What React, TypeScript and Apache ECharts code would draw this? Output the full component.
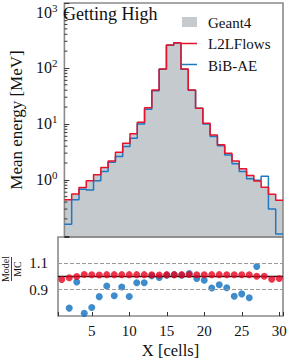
import React, { useEffect, useRef } from "react";
import * as echarts from "echarts";

const X_CELLS = [1, 2, 3, 4, 5, 6, 7, 8, 9, 10, 11, 12, 13, 14, 15, 16, 17, 18, 19, 20, 21, 22, 23, 24, 25, 26, 27, 28, 29, 30];
const GEANT4 = [0.445, 0.558, 0.73, 0.953, 1.22, 1.65, 2.17, 3.1, 4.5, 6.6, 10.65, 19.4, 40.3, 95.5, 255, 281, 95.5, 40.3, 18.9, 10.25, 6.33, 4.2, 2.97, 2.17, 1.56, 1.19, 0.945, 0.735, 0.55, 0.43];
const L2LFLOWS = [0.44, 0.555, 0.73, 0.96, 1.23, 1.66, 2.18, 3.12, 4.52, 6.63, 10.7, 19.5, 40.5, 96, 257, 283, 96, 40.5, 19.0, 10.3, 6.36, 4.22, 2.99, 2.18, 1.57, 1.2, 0.95, 0.74, 0.55, 0.43];
const BIBAE = [0.161, 0.44, 0.68, 0.66, 0.96, 1.41, 2.07, 2.61, 3.94, 5.55, 10.0, 18.3, 39, 95, 255, 280, 95, 40, 19.0, 10.0, 5.94, 4.05, 2.79, 1.93, 1.41, 1.05, 0.98, 1.16, 0.3, 0.107];
const RATIO_L2LFLOWS = [0.977, 0.99, 1.0, 1.015, 1.013, 1.012, 1.014, 1.014, 1.014, 1.014, 1.014, 1.014, 1.013, 1.012, 1.014, 1.014, 1.014, 1.015, 1.013, 1.013, 1.014, 1.014, 1.013, 1.013, 1.013, 1.013, 1.002, 1.002, 0.979, 0.985];
const RATIO_BIBAE = [null, 0.76, 0.958, 0.72, 0.764, 0.847, 0.928, 0.854, 0.92, 0.848, 0.952, 0.952, 1.005, 0.992, 1.01, 1.014, 1.01, 1.023, 0.985, 0.972, 0.912, 0.938, 0.914, 0.85, 0.868, 0.839, 1.076, null, null, null];
const LOG_MINOR_TICKS = [0.2, 0.3, 0.4, 0.5, 0.6, 0.7, 0.8, 0.9, 2, 3, 4, 5, 6, 7, 8, 9, 20, 30, 40, 50, 60, 70, 80, 90, 200, 300, 400, 500, 600, 700, 800, 900];
const RATIO_LABELS = [0.9, 1.1];
const RATIO_DASHED = [0.9, 1.1];
const RATIO_UNITY = 1.0;
const NAMES = ["Geant4", "L2LFlows", "BiB-AE"];
const TITLE = "Getting High";

const FONT = "'Liberation Serif', 'DejaVu Serif', serif";
const GRAY = "#c5cacf";
const RED = "#e5132b";
const BLUE = "#1f78c1";
const RED_DOT = "#e8001c";
const BLUE_DOT = "#0f6fbf";
const FRAME = "#8a8a8a";

function stairs(vals: number[]) {
  const pts: number[][] = X_CELLS.map((c, i) => [c - 0.5, vals[i]]);
  pts.push([X_CELLS[X_CELLS.length - 1] + 0.5, vals[vals.length - 1]]);
  return pts;
}

function points(vals: (number | null)[]) {
  const out: number[][] = [];
  X_CELLS.forEach((c, i) => {
    const v = vals[i];
    if (v !== null && v !== undefined) out.push([c, v]);
  });
  return out;
}

export default function App() {
  const ref = useRef<HTMLDivElement>(null);
  useEffect(() => {
    document.body.style.margin = "0";
    const chart = echarts.init(ref.current!, null, { renderer: "svg" });
    const xMin = X_CELLS[0] - 0.5;
    const xMax = X_CELLS[X_CELLS.length - 1] + 0.5;
    const legendText = (t: string, y: number) => ({
      type: "text", x: 208, y, z: 10,
      style: { text: t, fontSize: 15, fontFamily: FONT, fill: "#111", textVerticalAlign: "middle" },
    });
    const option: any = {
      animation: false,
      textStyle: { fontFamily: FONT },
      grid: [
        { left: 58, top: 3, width: 225, height: 234, show: true, borderColor: FRAME, borderWidth: 1.6, backgroundColor: "transparent", z: 3 },
        { left: 58, top: 237, width: 225, height: 79, show: true, borderColor: FRAME, borderWidth: 1.6, backgroundColor: "transparent", z: 3 },
      ],
      xAxis: [
        {
          type: "value", gridIndex: 0, min: xMin, max: xMax, splitNumber: 6,
          axisLine: { show: false }, axisTick: { show: false }, axisLabel: { show: false }, splitLine: { show: false },
        },
        {
          type: "value", gridIndex: 1, min: xMin, max: xMax, splitNumber: 6, z: 6,
          axisLine: { show: false },
          axisTick: { show: true, inside: true, length: 4, lineStyle: { color: "#333" } },
          axisLabel: {
            fontSize: 15, fontFamily: FONT, color: "#111", margin: 7,
            formatter: (v: number) => (Math.abs(v % 5) < 1e-9 ? String(v) : ""),
          },
          splitLine: { show: false },
          name: "X [cells]", nameLocation: "middle", nameGap: 26,
          nameTextStyle: { fontSize: 16.5, fontFamily: FONT, color: "#111" },
        },
      ],
      yAxis: [
        {
          type: "log", gridIndex: 0, min: 0.095, max: 1450, logBase: 10, z: 6,
          axisLine: { show: false },
          axisTick: { show: true, inside: true, length: 5, lineStyle: { color: "#333" } },
          axisLabel: {
            margin: 7, color: "#111",
            formatter: (v: number) => {
              const l = Math.log10(v);
              const r = Math.round(l);
              if (Math.abs(l - r) > 1e-6 || r < 0) return "";
              return "{b|10}{s|" + r + "}";
            },
            rich: {
              b: { fontSize: 16, fontFamily: FONT, color: "#111", lineHeight: 20 },
              s: { fontSize: 11, fontFamily: FONT, color: "#111", lineHeight: 11, verticalAlign: "top" },
            },
          },
          splitLine: { show: false },
          name: "Mean energy [MeV]", nameLocation: "middle", nameGap: 34,
          nameTextStyle: { fontSize: 17, fontFamily: FONT, color: "#111" },
        },
        {
          type: "value", gridIndex: 1, min: 0.7, max: 1.3, interval: 0.1, z: 6,
          axisLine: { show: false },
          axisTick: { show: false },
          axisLabel: {
            fontSize: 15, fontFamily: FONT, color: "#111", margin: 10,
            formatter: (v: number) => {
              const hit = RATIO_LABELS.find((t) => Math.abs(t - v) < 1e-6);
              return hit === undefined ? "" : hit.toFixed(1);
            },
          },
          splitLine: { show: false },
        },
      ],
      series: [
        {
          name: NAMES[0], type: "line", xAxisIndex: 0, yAxisIndex: 0, step: "end", z: 2,
          data: stairs(GEANT4), symbol: "none", showSymbol: false,
          lineStyle: { width: 0, color: GRAY }, itemStyle: { color: GRAY },
          areaStyle: { color: GRAY, opacity: 1, origin: "start" },
        },
        {
          name: NAMES[2], type: "line", xAxisIndex: 0, yAxisIndex: 0, step: "end", z: 4,
          data: stairs(BIBAE), symbol: "none", showSymbol: false,
          lineStyle: { width: 1.5, color: BLUE }, itemStyle: { color: BLUE },
        },
        {
          name: NAMES[1], type: "line", xAxisIndex: 0, yAxisIndex: 0, step: "end", z: 5,
          data: stairs(L2LFLOWS), symbol: "none", showSymbol: false,
          lineStyle: { width: 1.5, color: RED }, itemStyle: { color: RED },
        },
        {
          name: "minor", type: "custom", xAxisIndex: 0, yAxisIndex: 0, z: 7, silent: true,
          data: LOG_MINOR_TICKS.map((v) => [xMin, v]),
          encode: { x: 0, y: 1 },
          renderItem: (params: any, api: any) => {
            const p = api.coord([api.value(0), api.value(1)]);
            return {
              type: "line",
              shape: { x1: p[0], y1: p[1], x2: p[0] + 3, y2: p[1] },
              style: { stroke: "#333", lineWidth: 1 },
            };
          },
        },
        {
          name: "BiB-AE ratio", type: "scatter", xAxisIndex: 1, yAxisIndex: 1, z: 4,
          data: points(RATIO_BIBAE), symbolSize: 7, itemStyle: { color: BLUE_DOT },
          markLine: {
            silent: true, symbol: "none", label: { show: false },
            data: [
              ...RATIO_DASHED.map((v) => ({ yAxis: v, lineStyle: { type: "dashed", color: "#9a9a9a", width: 1 } })),
              { yAxis: RATIO_UNITY, lineStyle: { type: "solid", color: "#111", width: 1.4 } },
            ],
          },
        },
        {
          name: "L2LFlows ratio", type: "scatter", xAxisIndex: 1, yAxisIndex: 1, z: 5,
          data: points(RATIO_L2LFLOWS), symbolSize: 7, itemStyle: { color: RED_DOT },
        },
      ],
      graphic: [
        {
          type: "text", left: 63, top: 5, z: 10,
          style: { text: TITLE, fontSize: 18, fontFamily: FONT, fill: "#111" },
        },
        { type: "rect", shape: { x: 182, y: 17, width: 15, height: 10 }, style: { fill: GRAY }, z: 10 },
        { type: "line", shape: { x1: 182, y1: 43.5, x2: 197, y2: 43.5 }, style: { stroke: RED, lineWidth: 1.5 }, z: 10 },
        { type: "line", shape: { x1: 182, y1: 64.5, x2: 197, y2: 64.5 }, style: { stroke: BLUE, lineWidth: 1.5 }, z: 10 },
        legendText(NAMES[0], 22.5),
        legendText(NAMES[1], 44),
        legendText(NAMES[2], 65.5),
        {
          type: "group", x: 11.5, y: 269, rotation: Math.PI / 2, z: 10,
          children: [
            { type: "text", x: 0, y: -1, style: { text: "Model", fontSize: 10, fontFamily: FONT, fill: "#111", textAlign: "center", textVerticalAlign: "bottom" } },
            { type: "line", shape: { x1: -12, y1: 0, x2: 12, y2: 0 }, style: { stroke: "#111", lineWidth: 0.8 } },
            { type: "text", x: 0, y: 1, style: { text: "MC", fontSize: 10, fontFamily: FONT, fill: "#111", textAlign: "center", textVerticalAlign: "top" } },
          ],
        },
      ],
    };
    chart.setOption(option);
    return () => chart.dispose();
  }, []);
  return <div ref={ref} style={{ width: 291, height: 361 }} />;
}
